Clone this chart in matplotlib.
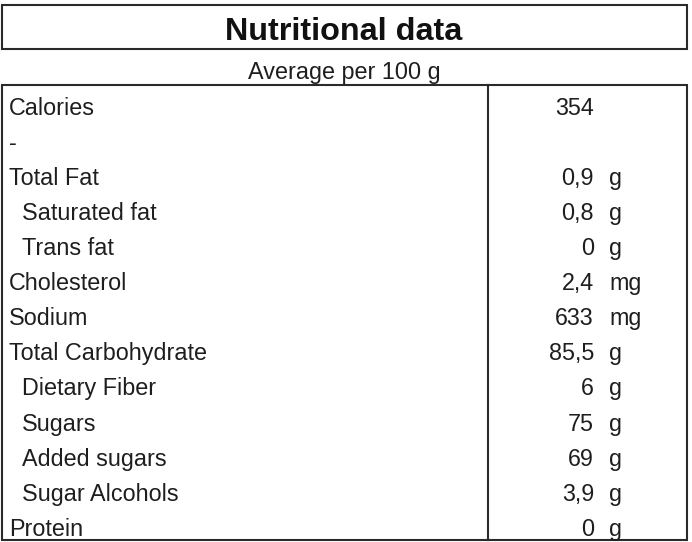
import matplotlib
matplotlib.use('Agg')
import matplotlib.pyplot as plt
from matplotlib.patches import Rectangle

plt.rcParams['font.family'] = ['Liberation Sans', 'DejaVu Sans']

# 表格数据
title = 'Nutritional data'
subtitle = 'Average per 100 g'
nutrients = ['Calories', '-', 'Total Fat', 'Saturated fat', 'Trans fat', 'Cholesterol',
             'Sodium', 'Total Carbohydrate', 'Dietary Fiber', 'Sugars', 'Added sugars',
             'Sugar Alcohols', 'Protein']
sub_item = [0, 0, 0, 1, 1, 0, 0, 0, 1, 1, 1, 1, 0]
amounts = ['354', '', '0,9', '0,8', '0', '2,4', '633', '85,5', '6', '75', '69', '3,9', '0']
units = ['', '', 'g', 'g', 'g', 'mg', 'mg', 'g', 'g', 'g', 'g', 'g', 'g']

W, H = 692, 542
fig = plt.figure(figsize=(W / 100, H / 100), dpi=100)
ax = fig.add_axes([0, 0, 1, 1])
ax.set_xlim(0, W)
ax.set_ylim(H, 0)
ax.axis('off')

edge = '#2a2a2a'
lw = 1.5
txt = '#1e1e1e'
fs = 16.8

# 标题框
ax.add_patch(Rectangle((2, 5), 685, 43.5, fill=False, ec=edge, lw=lw))
ax.text(344, 39.5, title, ha='center', va='baseline', fontsize=23.3, fontweight='bold', color='#111111')
ax.text(344.5, 78.5, subtitle, ha='center', va='baseline', fontsize=fs, color=txt)

# 主表格框
top, bottom = 84.5, 540
ax.add_patch(Rectangle((2, top), 684.5, bottom - top, fill=False, ec=edge, lw=lw))
ax.plot([488, 488], [top, bottom], color=edge, lw=lw)

row_h = 35.08
y0 = 114.8
for i, name in enumerate(nutrients):
    y = y0 + i * row_h
    x = 22 if sub_item[i] else 9
    ax.text(x, y, name, ha='left', va='baseline', fontsize=fs, color=txt)
    if amounts[i]:
        ax.text(594, y, amounts[i], ha='right', va='baseline', fontsize=fs, color=txt)
    if units[i]:
        ax.text(609, y, units[i], ha='left', va='baseline', fontsize=fs, color=txt)

fig.savefig('out.png', dpi=100)
